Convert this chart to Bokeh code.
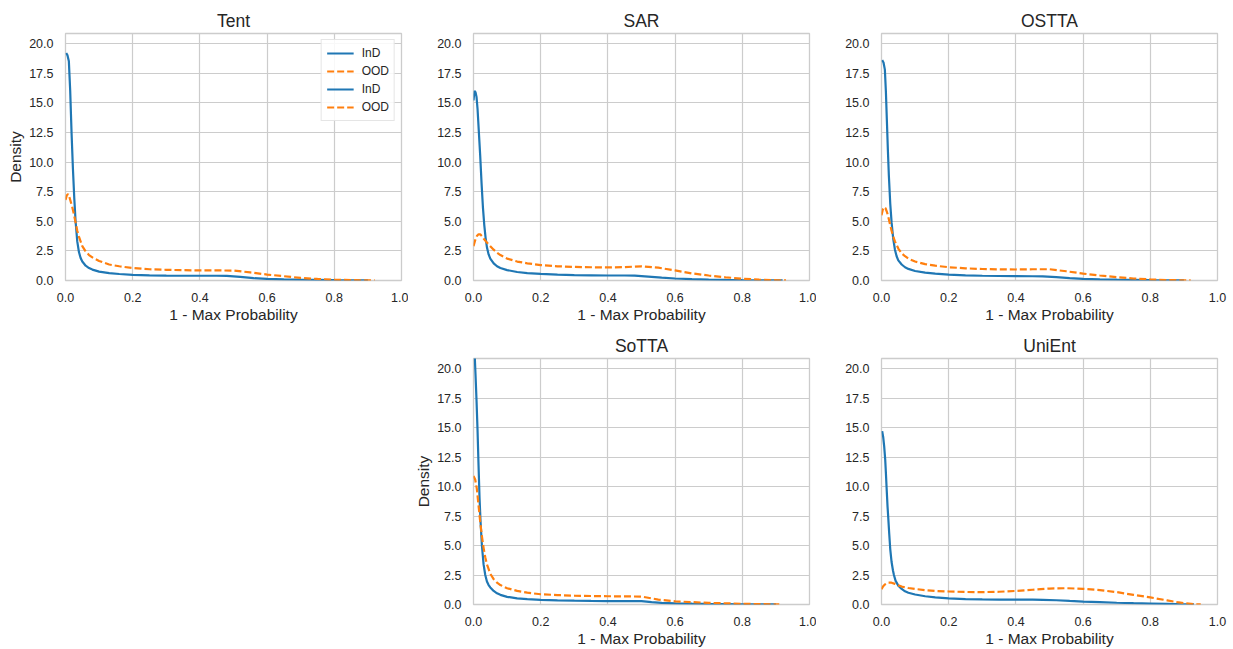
from bokeh.plotting import figure
from bokeh.layouts import row, column
from bokeh.models import (Range1d, FixedTicker, NumeralTickFormatter, Legend,
                          LegendItem, Spacer)
from bokeh.embed import file_html
from bokeh.resources import INLINE

# ---------------- data ----------------
titles = ["Tent", "SAR", "OSTTA", "SoTTA", "UniEnt"]
series_labels = ["InD", "OOD"]
x_ticks = [0.0, 0.2, 0.4, 0.6, 0.8, 1.0]
y_ticks = [0.0, 2.5, 5.0, 7.5, 10.0, 12.5, 15.0, 17.5, 20.0]

tent_ind_x = [0.002, 0.006, 0.01, 0.014, 0.018, 0.022, 0.026, 0.03, 0.035, 0.04, 0.045, 0.05, 0.06, 0.07, 0.08,
              0.1, 0.13, 0.16, 0.2, 0.25, 0.3, 0.35, 0.4, 0.45, 0.48, 0.52, 0.56, 0.6, 0.65, 0.7, 0.75, 0.8, 0.85, 0.9]
tent_ind_y = [19.2, 19.0, 18.5, 16.0, 12.5, 9.5, 7.0, 5.0, 3.3, 2.4, 1.9, 1.6, 1.25, 1.05, 0.92,
              0.75, 0.62, 0.55, 0.48, 0.44, 0.41, 0.4, 0.4, 0.4, 0.39, 0.3, 0.2, 0.14, 0.1, 0.07, 0.05, 0.03, 0.015, 0.005]
tent_ood_x = [0.0, 0.004, 0.008, 0.012, 0.016, 0.02, 0.025, 0.03, 0.035, 0.04, 0.05, 0.06, 0.07, 0.08, 0.1, 0.13,
              0.16, 0.2, 0.25, 0.3, 0.35, 0.4, 0.45, 0.5, 0.55, 0.6, 0.65, 0.7, 0.75, 0.8, 0.85, 0.9, 0.92]
tent_ood_y = [6.8, 7.2, 7.3, 7.0, 6.6, 6.2, 5.6, 4.9, 4.2, 3.7, 2.9, 2.45, 2.15, 1.95, 1.65, 1.35,
              1.2, 1.05, 0.95, 0.9, 0.87, 0.85, 0.85, 0.84, 0.68, 0.5, 0.36, 0.22, 0.13, 0.07, 0.03, 0.01, 0.005]

sar_ind_x = [0.0, 0.003, 0.006, 0.009, 0.012, 0.016, 0.02, 0.024, 0.028, 0.032, 0.036, 0.04, 0.045, 0.05, 0.06,
             0.07, 0.08, 0.1, 0.13, 0.16, 0.2, 0.25, 0.3, 0.35, 0.4, 0.45, 0.48, 0.52, 0.56, 0.6, 0.65, 0.7, 0.75,
             0.8, 0.85, 0.9, 0.92]
sar_ind_y = [15.2, 16.0, 15.9, 15.5, 14.5, 12.5, 10.5, 8.2, 6.2, 4.7, 3.6, 2.8, 2.2, 1.85, 1.45,
             1.2, 1.05, 0.88, 0.72, 0.63, 0.56, 0.5, 0.46, 0.44, 0.42, 0.42, 0.41, 0.33, 0.24, 0.17, 0.12, 0.08, 0.05,
             0.03, 0.015, 0.006, 0.003]
sar_ood_x = [0.0, 0.005, 0.01, 0.015, 0.02, 0.025, 0.03, 0.04, 0.05, 0.06, 0.07, 0.08, 0.1, 0.13, 0.16, 0.2,
             0.25, 0.3, 0.35, 0.4, 0.45, 0.5, 0.55, 0.6, 0.65, 0.7, 0.75, 0.8, 0.85, 0.9, 0.93]
sar_ood_y = [2.9, 3.4, 3.75, 3.9, 3.9, 3.75, 3.55, 3.2, 2.9, 2.6, 2.35, 2.15, 1.85, 1.6, 1.45, 1.3,
             1.2, 1.15, 1.12, 1.1, 1.13, 1.2, 1.08, 0.85, 0.6, 0.42, 0.27, 0.15, 0.07, 0.025, 0.005]

ostta_ind_x = [0.002, 0.006, 0.01, 0.013, 0.016, 0.019, 0.022, 0.026, 0.03, 0.035, 0.04, 0.045, 0.05, 0.06, 0.07,
               0.08, 0.1, 0.13, 0.16, 0.2, 0.25, 0.3, 0.35, 0.4, 0.45, 0.48, 0.52, 0.56, 0.6, 0.65, 0.7, 0.75, 0.8,
               0.85, 0.9]
ostta_ind_y = [18.6, 18.4, 17.8, 16.0, 13.5, 11.0, 8.8, 6.5, 4.9, 3.5, 2.6, 2.05, 1.7, 1.35, 1.12,
               0.98, 0.8, 0.66, 0.58, 0.5, 0.44, 0.4, 0.38, 0.37, 0.36, 0.35, 0.28, 0.2, 0.14, 0.1, 0.07, 0.05, 0.03,
               0.015, 0.005]
ostta_ood_x = [0.0, 0.004, 0.008, 0.012, 0.016, 0.02, 0.025, 0.03, 0.035, 0.04, 0.05, 0.06, 0.07, 0.08, 0.1, 0.13,
               0.16, 0.2, 0.25, 0.3, 0.35, 0.4, 0.45, 0.5, 0.55, 0.6, 0.65, 0.7, 0.75, 0.8, 0.85, 0.9, 0.92]
ostta_ood_y = [5.5, 6.0, 6.2, 6.1, 5.8, 5.4, 4.8, 4.2, 3.7, 3.3, 2.7, 2.3, 2.05, 1.85, 1.6, 1.38,
               1.25, 1.12, 1.03, 0.97, 0.94, 0.93, 0.95, 0.95, 0.78, 0.58, 0.42, 0.28, 0.17, 0.09, 0.04, 0.015, 0.005]

sotta_ind_x = [0.0, 0.003, 0.006, 0.009, 0.012, 0.015, 0.018, 0.021, 0.025, 0.03, 0.035, 0.04, 0.045, 0.05, 0.06,
               0.07, 0.08, 0.1, 0.13, 0.16, 0.2, 0.25, 0.3, 0.35, 0.4, 0.45, 0.5, 0.53, 0.56, 0.6, 0.65, 0.7, 0.75,
               0.8, 0.85, 0.9]
sotta_ind_y = [23.0, 21.5, 19.5, 17.3, 14.8, 11.8, 9.0, 7.0, 5.0, 3.4, 2.5, 1.95, 1.65, 1.45, 1.15,
               0.95, 0.82, 0.65, 0.52, 0.45, 0.4, 0.35, 0.32, 0.3, 0.29, 0.29, 0.28, 0.2, 0.14, 0.1, 0.07, 0.05, 0.035,
               0.02, 0.01, 0.004]
sotta_ood_x = [0.0, 0.005, 0.01, 0.015, 0.02, 0.025, 0.03, 0.035, 0.04, 0.05, 0.06, 0.07, 0.08, 0.1, 0.13, 0.16,
               0.2, 0.25, 0.3, 0.35, 0.4, 0.45, 0.5, 0.55, 0.6, 0.65, 0.7, 0.75, 0.8, 0.85, 0.9, 0.91]
sotta_ood_y = [10.9, 10.6, 9.8, 8.4, 7.0, 5.8, 4.8, 4.0, 3.4, 2.6, 2.15, 1.85, 1.65, 1.38, 1.15, 1.0,
               0.87, 0.8, 0.75, 0.72, 0.7, 0.69, 0.67, 0.42, 0.27, 0.2, 0.14, 0.1, 0.06, 0.035, 0.015, 0.008]

unient_ind_x = [0.002, 0.005, 0.008, 0.011, 0.013, 0.015, 0.018, 0.02, 0.023, 0.026, 0.03, 0.034, 0.037, 0.042,
                0.05, 0.06, 0.07, 0.08, 0.1, 0.13, 0.16, 0.2, 0.25, 0.3, 0.35, 0.4, 0.45, 0.48, 0.52, 0.56, 0.6,
                0.65, 0.7, 0.75, 0.8, 0.85, 0.9, 0.93]
unient_ind_y = [14.7, 14.2, 13.4, 12.3, 11.2, 10.0, 8.3, 7.4, 6.0, 4.7, 3.6, 2.9, 2.5, 2.0,
                1.6, 1.32, 1.12, 1.0, 0.85, 0.7, 0.6, 0.52, 0.46, 0.43, 0.42, 0.41, 0.41, 0.4, 0.36, 0.3, 0.25,
                0.2, 0.15, 0.11, 0.08, 0.05, 0.02, 0.01]
unient_ood_x = [0.0, 0.005, 0.01, 0.02, 0.03, 0.04, 0.05, 0.06, 0.08, 0.1, 0.13, 0.16, 0.2, 0.25, 0.3, 0.35,
                0.4, 0.45, 0.5, 0.55, 0.6, 0.65, 0.7, 0.75, 0.8, 0.85, 0.88, 0.9, 0.93, 0.95]
unient_ood_y = [1.3, 1.55, 1.7, 1.85, 1.85, 1.75, 1.62, 1.52, 1.4, 1.32, 1.22, 1.15, 1.1, 1.06, 1.05, 1.08,
                1.15, 1.25, 1.35, 1.38, 1.33, 1.22, 1.05, 0.82, 0.6, 0.35, 0.2, 0.12, 0.03, 0.005]

panel_data = {
    "Tent": (tent_ind_x, tent_ind_y, tent_ood_x, tent_ood_y),
    "SAR": (sar_ind_x, sar_ind_y, sar_ood_x, sar_ood_y),
    "OSTTA": (ostta_ind_x, ostta_ind_y, ostta_ood_x, ostta_ood_y),
    "SoTTA": (sotta_ind_x, sotta_ind_y, sotta_ood_x, sotta_ood_y),
    "UniEnt": (unient_ind_x, unient_ind_y, unient_ood_x, unient_ood_y),
}

# ---------------- styling ----------------
FONT = "Liberation Sans"
TXT = "#262626"
GRID = "#cccccc"
BLUE = "#1f77b4"
ORANGE = "#ff7f0e"
LB = 65              # left border
FW = 336             # frame width
ROW1_H = 325
ROW2_H = 324


def make_panel(name, top_border, bottom_border, height, right_border, ylabel, legend):
    ix, iy, ox, oy = panel_data[name]
    p = figure(width=LB + FW + right_border, height=height, output_backend="svg", toolbar_location=None,
               x_range=Range1d(0, 1.0), y_range=Range1d(0, 20.85),
               min_border_left=LB, min_border_right=right_border,
               min_border_top=top_border, min_border_bottom=bottom_border)
    p.title.text = name
    p.title.align = "center"
    p.title.text_font = FONT
    p.title.text_font_size = "17.5px"
    p.title.text_font_style = "normal"
    p.title.text_color = TXT
    p.title.standoff = 6

    p.outline_line_color = GRID
    p.outline_line_width = 1.3
    p.background_fill_color = "white"
    p.border_fill_color = "white"

    for ax in (p.xaxis[0], p.yaxis[0]):
        ax.axis_line_color = None
        ax.major_tick_line_color = None
        ax.minor_tick_line_color = None
        ax.major_label_text_font = FONT
        ax.major_label_text_font_size = "12.5px"
        ax.major_label_text_color = TXT
        ax.axis_label_text_font = FONT
        ax.axis_label_text_font_size = "15.5px"
        ax.axis_label_text_font_style = "normal"
        ax.axis_label_text_color = TXT

    p.xaxis.ticker = FixedTicker(ticks=x_ticks)
    p.yaxis.ticker = FixedTicker(ticks=y_ticks)
    p.xaxis.formatter = NumeralTickFormatter(format="0.0")
    p.yaxis.formatter = NumeralTickFormatter(format="0.0")
    p.xaxis.major_label_standoff = 6
    p.yaxis.major_label_standoff = 6
    p.xaxis.axis_label = "1 - Max Probability"
    p.xaxis.axis_label_standoff = 1
    if ylabel:
        p.yaxis.axis_label = "Density"
        p.yaxis.axis_label_standoff = 2

    p.grid.grid_line_color = GRID
    p.grid.grid_line_width = 1.2
    p.xgrid.ticker = FixedTicker(ticks=x_ticks)
    p.ygrid.ticker = FixedTicker(ticks=y_ticks)

    r_ind = p.line(ix, iy, line_color=BLUE, line_width=2.2)
    r_ood = p.line(ox, oy, line_color=ORANGE, line_width=2.2, line_dash="7 3")

    if legend:
        items = [LegendItem(label=series_labels[0], renderers=[r_ind]),
                 LegendItem(label=series_labels[1], renderers=[r_ood]),
                 LegendItem(label=series_labels[0], renderers=[r_ind]),
                 LegendItem(label=series_labels[1], renderers=[r_ood])]
        lg = Legend(items=items, location="top_right")
        lg.label_text_font = FONT
        lg.label_text_font_size = "12px"
        lg.label_text_color = TXT
        lg.glyph_width = 27
        lg.glyph_height = 16
        lg.label_height = 16
        lg.label_standoff = 8
        lg.spacing = 2
        lg.padding = 5
        lg.margin = 6
        lg.border_line_color = GRID
        lg.border_line_width = 1
        lg.background_fill_color = "white"
        lg.background_fill_alpha = 0.85
        p.add_layout(lg, "center")
    return p


p1 = make_panel("Tent", 33, 44, ROW1_H, 7, True, True)
p2 = make_panel("SAR", 33, 44, ROW1_H, 7, False, False)
p3 = make_panel("OSTTA", 33, 44, ROW1_H, 12, False, False)
p4 = make_panel("SoTTA", 33, 43, ROW2_H, 7, True, False)
p5 = make_panel("UniEnt", 33, 43, ROW2_H, 12, False, False)

layout = column(row(p1, p2, p3),
                row(Spacer(width=LB + FW + 7, height=ROW2_H), p4, p5))

open("out.html", "w").write(file_html(layout, INLINE))
